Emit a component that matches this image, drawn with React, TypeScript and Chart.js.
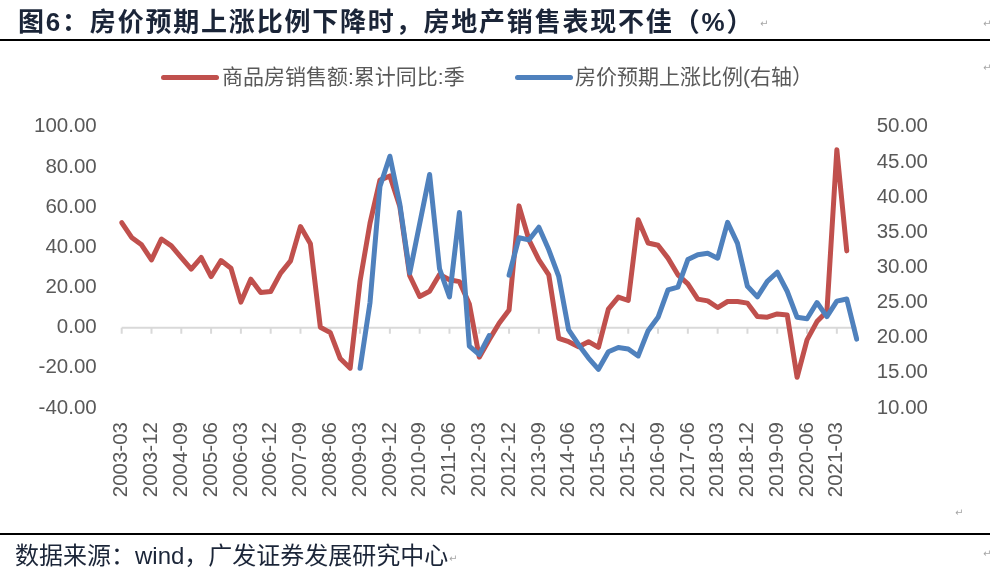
import React, { useEffect, useRef } from "react";
import { Chart, registerables } from "chart.js";

Chart.register(...registerables);

const quarters = [
  "2003-03", "2003-06", "2003-09", "2003-12",
  "2004-03", "2004-06", "2004-09", "2004-12",
  "2005-03", "2005-06", "2005-09", "2005-12",
  "2006-03", "2006-06", "2006-09", "2006-12",
  "2007-03", "2007-06", "2007-09", "2007-12",
  "2008-03", "2008-06", "2008-09", "2008-12",
  "2009-03", "2009-06", "2009-09", "2009-12",
  "2010-03", "2010-06", "2010-09", "2010-12",
  "2011-03", "2011-06", "2011-09", "2011-12",
  "2012-03", "2012-06", "2012-09", "2012-12",
  "2013-03", "2013-06", "2013-09", "2013-12",
  "2014-03", "2014-06", "2014-09", "2014-12",
  "2015-03", "2015-06", "2015-09", "2015-12",
  "2016-03", "2016-06", "2016-09", "2016-12",
  "2017-03", "2017-06", "2017-09", "2017-12",
  "2018-03", "2018-06", "2018-09", "2018-12",
  "2019-03", "2019-06", "2019-09", "2019-12",
  "2020-03", "2020-06", "2020-09", "2020-12",
  "2021-03", "2021-06", "2021-09",
];

// 商品房销售额:累计同比:季 (left axis, %)
const salesYoY: (number | null)[] = [
  52.3, 44.9, 41.2, 33.7,
  44.1, 40.7, 34.9, 29.1,
  34.9, 25.4, 33.4, 29.6,
  12.7, 24.1, 17.5, 18.0,
  27.1, 33.2, 50.3, 41.7,
  0.2, -2.5, -15.4, -20.2,
  23.3, 52.0, 73.4, 75.5,
  60.3, 25.8, 15.5, 18.1,
  26.4, 23.8, 22.9, 11.8,
  -14.7, -6.0, 2.2, 8.8,
  60.6, 43.7, 33.7, 26.3,
  -5.3, -7.0, -9.5, -7.0,
  -9.8, 9.2, 15.2, 13.5,
  53.7, 42.1, 41.0, 34.6,
  26.3, 21.8, 14.2, 13.3,
  10.0, 13.0, 13.0, 12.2,
  5.5, 5.2, 6.8, 6.3,
  -24.7, -6.1, 3.0, 8.0,
  88.5, 38.2, null,
];

// 房价预期上涨比例 (right axis, %)
const priceUpExpect: (number | null)[] = [
  null, null, null, null,
  null, null, null, null,
  null, null, null, null,
  null, null, null, null,
  null, null, null, null,
  null, null, null, null,
  15.65, 25.0, 41.5, 45.8,
  39.0, 29.2, 36.2, 43.2,
  29.8, 25.8, 37.8, 18.8,
  17.6, 20.3, null, 28.9,
  34.2, 33.9, 35.7, 32.5,
  28.7, 21.1, 19.0, 17.1,
  15.5, 18.0, 18.6, 18.4,
  17.4, 21.0, 22.9, 26.8,
  27.2, 31.1, 31.8, 32.0,
  31.3, 36.4, 33.4, 27.3,
  25.8, 28.0, 29.3, 26.6,
  22.9, 22.7, 25.0, 23.0,
  25.2, 25.5, 19.8,
];

const LEFT_MIN = -40;
const LEFT_MAX = 100;
const LEFT_STEP = 20;
const RIGHT_MIN = 10;
const RIGHT_MAX = 50;
const RIGHT_STEP = 5;
const LABEL_EVERY = 3;

const RED = "#C0504D";
const BLUE = "#4F81BD";
const AXIS_TEXT = "#595959";
const GRID = "#D9D9D9";
const LATIN = "'Liberation Sans', Arial, sans-serif";
const CJK = "'Liberation Sans', 'Noto Sans CJK SC', sans-serif";
const DARK = "#1b2538";

const zeroAxisPlugin = {
  id: "zeroAxis",
  beforeDatasetsDraw(chart: any) {
    const { ctx, chartArea, scales } = chart;
    const xs = scales.x;
    const ys = scales.y;
    const y0 = ys.getPixelForValue(0);
    ctx.save();
    ctx.strokeStyle = GRID;
    ctx.lineWidth = 2;
    ctx.beginPath();
    ctx.moveTo(chartArea.left, y0);
    ctx.lineTo(chartArea.right, y0);
    for (let i = 0; i < quarters.length; i += LABEL_EVERY) {
      const px = xs.getPixelForValue(i);
      ctx.moveTo(px, y0);
      ctx.lineTo(px, y0 + 6);
    }
    ctx.stroke();
    ctx.restore();
  },
};

const tickFont = { family: LATIN, size: 20.5 };

export default function App() {
  const ref = useRef<HTMLCanvasElement | null>(null);

  useEffect(() => {
    if (!ref.current) return;
    const chart = new Chart(ref.current, {
      type: "line",
      data: {
        labels: quarters,
        datasets: [
          {
            label: "商品房销售额:累计同比:季",
            data: salesYoY,
            yAxisID: "y",
            borderColor: RED,
            backgroundColor: RED,
            borderWidth: 5,
            pointRadius: 0,
            tension: 0,
            borderJoinStyle: "round",
            borderCapStyle: "round",
            order: 2,
          },
          {
            label: "房价预期上涨比例(右轴）",
            data: priceUpExpect,
            yAxisID: "y1",
            borderColor: BLUE,
            backgroundColor: BLUE,
            borderWidth: 5,
            pointRadius: 0,
            tension: 0,
            borderJoinStyle: "round",
            borderCapStyle: "round",
            spanGaps: false,
            order: 1,
          },
        ],
      },
      options: {
        responsive: false,
        animation: false,
        events: [],
        layout: { padding: { top: 126.7, left: 0, right: 0, bottom: 0 } },
        plugins: {
          legend: { display: false },
          tooltip: { enabled: false },
          title: { display: false },
        },
        scales: {
          x: {
            type: "category",
            offset: false,
            grid: { display: false, drawTicks: false },
            border: { display: false },
            ticks: {
              autoSkip: false,
              maxRotation: 90,
              minRotation: 90,
              padding: 14,
              color: AXIS_TEXT,
              font: tickFont,
              callback: (_v: any, index: number) =>
                index % LABEL_EVERY === 0 ? quarters[index] : null,
            },
            afterFit: (s: any) => {
              s.height = 172;
            },
          },
          y: {
            position: "left",
            min: LEFT_MIN,
            max: LEFT_MAX,
            grid: { display: false, drawTicks: false },
            border: { display: false },
            ticks: {
              stepSize: LEFT_STEP,
              padding: 25,
              color: AXIS_TEXT,
              font: tickFont,
              callback: (v: any) => Number(v).toFixed(2),
            },
            afterFit: (s: any) => {
              s.width = 121.7;
            },
          },
          y1: {
            position: "right",
            min: RIGHT_MIN,
            max: RIGHT_MAX,
            grid: { display: false, drawTicks: false },
            border: { display: false },
            ticks: {
              stepSize: RIGHT_STEP,
              padding: 20,
              color: AXIS_TEXT,
              font: tickFont,
              callback: (v: any) => Number(v).toFixed(2),
            },
            afterFit: (s: any) => {
              s.width = 143.3;
            },
          },
        },
      },
      plugins: [zeroAxisPlugin],
    } as any);
    return () => chart.destroy();
  }, []);

  const mark = (left: number, top: number) => (
    <span
      style={{
        position: "absolute",
        left,
        top,
        fontFamily: "'DejaVu Sans', sans-serif",
        fontSize: 10,
        lineHeight: "12px",
        color: "#a6a6a6",
      }}
    >
      ↵
    </span>
  );

  return (
    <div
      style={{
        position: "fixed",
        left: 0,
        top: 0,
        width: 1000,
        height: 580,
        background: "#ffffff",
        overflow: "hidden",
      }}
    >
      <canvas
        ref={ref}
        width={1000}
        height={580}
        style={{ position: "absolute", left: 0, top: 0, width: 1000, height: 580 }}
      />
      <div
        style={{
          position: "absolute",
          left: 18,
          top: 6,
          fontFamily: CJK,
          fontWeight: "bold",
          fontSize: 26,
          lineHeight: "32px",
          letterSpacing: 1.8,
          color: DARK,
          whiteSpace: "nowrap",
        }}
      >
        图6：房价预期上涨比例下降时，房地产销售表现不佳（%）
      </div>
      {mark(760, 18)}
      {mark(983, 18)}
      <div style={{ position: "absolute", left: 0, top: 39, width: 990, height: 2, background: "#000" }} />
      {mark(983, 62)}
      <div
        style={{
          position: "absolute",
          left: 161,
          top: 74.5,
          width: 58,
          height: 5,
          borderRadius: 2.5,
          background: RED,
        }}
      />
      <div
        style={{
          position: "absolute",
          left: 222,
          top: 65,
          fontFamily: CJK,
          fontSize: 21,
          lineHeight: "24px",
          color: AXIS_TEXT,
          whiteSpace: "nowrap",
        }}
      >
        商品房销售额:累计同比:季
      </div>
      <div
        style={{
          position: "absolute",
          left: 515,
          top: 74.5,
          width: 58,
          height: 5,
          borderRadius: 2.5,
          background: BLUE,
        }}
      />
      <div
        style={{
          position: "absolute",
          left: 575,
          top: 65,
          fontFamily: CJK,
          fontSize: 21,
          lineHeight: "24px",
          color: AXIS_TEXT,
          whiteSpace: "nowrap",
        }}
      >
        房价预期上涨比例(右轴）
      </div>
      {mark(955, 507)}
      <div style={{ position: "absolute", left: 0, top: 533, width: 990, height: 2, background: "#000" }} />
      <div
        style={{
          position: "absolute",
          left: 15,
          top: 540,
          fontFamily: CJK,
          fontSize: 24,
          lineHeight: "32px",
          color: DARK,
          whiteSpace: "nowrap",
        }}
      >
        数据来源：wind，广发证券发展研究中心
      </div>
      {mark(449, 553)}
      {mark(983, 548)}
    </div>
  );
}
